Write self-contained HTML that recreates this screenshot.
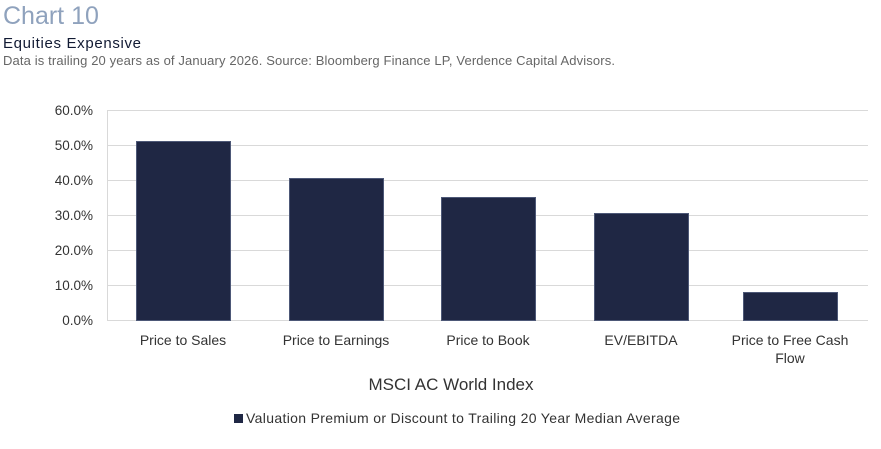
<!DOCTYPE html>
<html><head><style>
body{margin:0;background:#fff;width:881px;height:444px;overflow:hidden;font-family:"Liberation Sans",sans-serif}
</style></head><body>
<svg width="881" height="444" xmlns="http://www.w3.org/2000/svg" font-family="Liberation Sans, sans-serif">
<text x="3" y="24" font-size="25" fill="#8fa2bd">Chart 10</text>
<text x="3" y="48" font-size="15" fill="#111a33" textLength="138">Equities Expensive</text>
<text x="3" y="65" font-size="13" fill="#666" textLength="612">Data is trailing 20 years as of January 2026. Source: Bloomberg Finance LP, Verdence Capital Advisors.</text>
<g stroke="#d9d9d9" stroke-width="1">
<line x1="107" y1="110.5" x2="868" y2="110.5"/>
<line x1="107" y1="145.5" x2="868" y2="145.5"/>
<line x1="107" y1="180.5" x2="868" y2="180.5"/>
<line x1="107" y1="215.5" x2="868" y2="215.5"/>
<line x1="107" y1="250.5" x2="868" y2="250.5"/>
<line x1="107" y1="285.5" x2="868" y2="285.5"/>
<line x1="107" y1="320.5" x2="868" y2="320.5"/>
<line x1="107.5" y1="110" x2="107.5" y2="320"/>
</g>
<g font-size="13.5" fill="#333" text-anchor="end">
<text x="93" y="115">60.0%</text>
<text x="93" y="150">50.0%</text>
<text x="93" y="185">40.0%</text>
<text x="93" y="220">30.0%</text>
<text x="93" y="255">20.0%</text>
<text x="93" y="290">10.0%</text>
<text x="93" y="325">0.0%</text>
</g>
<g fill="#1f2744" stroke="#4d5877" stroke-width="1">
<rect x="136.5" y="141.5" width="94" height="179"/>
<rect x="289.5" y="178.5" width="94" height="142"/>
<rect x="441.5" y="197.5" width="94" height="123"/>
<rect x="594.5" y="213.5" width="94" height="107"/>
<rect x="743.5" y="292.5" width="94" height="28"/>
</g>
<g font-size="14" fill="#333" text-anchor="middle">
<text x="183" y="345">Price to Sales</text>
<text x="336" y="345">Price to Earnings</text>
<text x="488" y="345">Price to Book</text>
<text x="641" y="345">EV/EBITDA</text>
<text x="790" y="345">Price to Free Cash</text>
<text x="790" y="363">Flow</text>
<text x="451" y="390" font-size="17">MSCI AC World Index</text>
</g>
<rect x="234" y="414" width="9" height="9" fill="#1f2744"/>
<text x="246" y="423" font-size="14" fill="#333" textLength="434">Valuation Premium or Discount to Trailing 20 Year Median Average</text>
</svg>
</body></html>
